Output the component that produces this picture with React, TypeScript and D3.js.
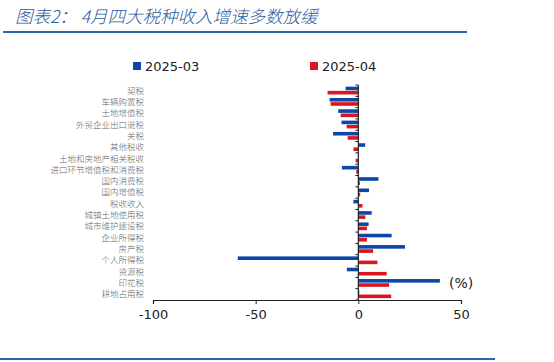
import React, { useEffect, useRef } from "react";
import * as d3 from "d3";

const categories = [
  "契税", "车辆购置税", "土地增值税", "外贸企业出口退税", "关税", "其他税收",
  "土地和房地产相关税收", "进口环节增值税和消费税", "国内消费税", "国内增值税",
  "税收收入", "城镇土地使用税", "城市维护建设税", "企业所得税", "房产税",
  "个人所得税", "资源税", "印花税", "耕地占用税",
];
const mar2025 = [-6.2, -14, -9.8, -8.2, -12.3, 3.3, 0.3, -8, 9.8, 5.2, -2.4, 6.5, 5, 16.2, 22.7, -58.7, -5.6, 39.7, 0.5];
const apr2025 = [-15, -13.5, -8.6, -5.7, -5.2, -2.4, -1.3, -1, 0.8, 0.9, 2, 3.4, 4.2, 4.2, 7.2, 9.3, 13.8, 15, 16];
const xTicks = [-100, -50, 0, 50];

const BLUE = "#0b48a6";
const RED = "#d9161e";
const LINE = "#2f63ad";

const App = () => {
  const ref = useRef<SVGSVGElement>(null);

  useEffect(() => {
    const svg = d3.select(ref.current);
    svg.selectAll("*").remove();

    const x = d3.scaleLinear().domain([-100, 50]).range([153, 461]);
    const y = d3.scaleBand().domain(categories).range([85, 300]).padding(0);

    // title and rules
    svg.append("text")
      .attr("x", 15).attr("y", 23)
      .attr("font-family", "'Noto Sans CJK SC', sans-serif")
      .attr("font-size", 17.5)
      .attr("font-weight", 300)
      .attr("font-style", "italic")
      .attr("fill", "#2c5aa0")
      .attr("xml:space", "preserve")
      .text("图表2： 4月四大税种收入增速多数放缓");
    svg.append("rect").attr("x", 3).attr("y", 31).attr("width", 464).attr("height", 2).attr("fill", LINE);
    svg.append("rect").attr("x", 0).attr("y", 358).attr("width", 495).attr("height", 2).attr("fill", LINE);

    // legend
    const legend = [{ name: "2025-03", color: BLUE, x: 133 }, { name: "2025-04", color: RED, x: 310 }];
    legend.forEach(l => {
      svg.append("rect").attr("x", l.x).attr("y", 62).attr("width", 8).attr("height", 8).attr("fill", l.color);
      svg.append("text")
        .attr("x", l.x + 12).attr("y", 70.5)
        .attr("font-family", "'DejaVu Sans', sans-serif")
        .attr("font-size", 13).attr("fill", "#222")
        .text(l.name);
    });

    // bars
    const g = svg.append("g");
    categories.forEach((c, i) => {
      const cy = (y(c) as number) + y.bandwidth() / 2;
      const b = mar2025[i];
      const r = apr2025[i];
      g.append("rect")
        .attr("x", x(Math.min(0, b))).attr("y", cy - 4)
        .attr("width", Math.abs(x(b) - x(0))).attr("height", 3.6)
        .attr("fill", BLUE);
      g.append("rect")
        .attr("x", x(Math.min(0, r))).attr("y", cy + 0.2)
        .attr("width", Math.abs(x(r) - x(0))).attr("height", 3.6)
        .attr("fill", RED);
    });

    // category labels
    svg.append("g").selectAll("text").data(categories).join("text")
      .attr("x", 144)
      .attr("y", d => (y(d) as number) + y.bandwidth() / 2)
      .attr("dy", "0.35em")
      .attr("text-anchor", "end")
      .attr("font-family", "'Noto Sans CJK SC', serif")
      .attr("font-size", 8.5)
      .attr("font-weight", 300)
      .attr("fill", "#666")
      .text(d => d);

    // vertical axis at zero
    const x0 = x(0);
    svg.append("line").attr("x1", x0).attr("x2", x0).attr("y1", 85).attr("y2", 300)
      .attr("stroke", "#222").attr("stroke-width", 1.2);
    d3.range(categories.length + 1).forEach(i => {
      const ty = 85 + i * y.step();
      svg.append("line").attr("x1", x0 - 3).attr("x2", x0).attr("y1", ty).attr("y2", ty)
        .attr("stroke", "#222").attr("stroke-width", 1);
    });

    // bottom axis
    const axis = svg.append("g").attr("transform", "translate(0,300)")
      .call(d3.axisBottom(x).tickValues(xTicks).tickFormat(d => String(d))
        .tickSize(4).tickSizeOuter(4).tickPadding(6));
    axis.select(".domain").attr("stroke", "#222").attr("stroke-width", 1.2);
    axis.selectAll(".tick line").attr("stroke", "#222");
    axis.selectAll(".tick text")
      .attr("font-family", "'DejaVu Sans', sans-serif")
      .attr("font-size", 13).attr("fill", "#222");

    svg.append("text")
      .attr("x", 449).attr("y", 288)
      .attr("font-family", "'DejaVu Sans', sans-serif")
      .attr("font-size", 14).attr("fill", "#222")
      .text("(%)");
  }, []);

  return (
    <svg ref={ref} width={554} height={362}
      style={{ position: "fixed", left: 0, top: 0, background: "#fff" }} />
  );
};

export default App;
